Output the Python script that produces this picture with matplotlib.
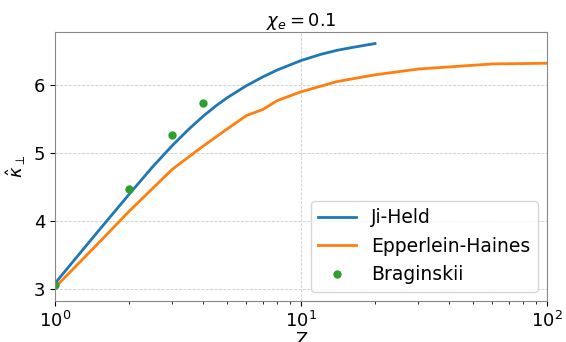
import matplotlib
matplotlib.use("Agg")
import matplotlib.pyplot as plt

# Ji-Held fit
jh_z = [1, 1.5, 2, 2.5, 3, 3.5, 4, 4.5, 5, 6, 7, 8, 10, 12, 14, 16, 20]
jh_kappa = [3.08, 3.85, 4.39, 4.80, 5.11, 5.35, 5.54, 5.69, 5.81, 5.99, 6.12, 6.22,
            6.36, 6.45, 6.51, 6.55, 6.61]

# Epperlein-Haines tabulated values
eh_z = [1, 1.5, 2, 3, 4, 5, 6, 7, 8, 10, 14, 20, 30, 60, 100]
eh_kappa = [3.02, 3.67, 4.14, 4.76, 5.10, 5.35, 5.55, 5.64, 5.77, 5.90, 6.05, 6.15,
            6.235, 6.31, 6.32]

# Braginskii points
br_z = [1, 2, 3, 4]
br_kappa = [3.05, 4.47, 5.26, 5.74]

plt.rcParams["font.size"] = 13

fig, ax = plt.subplots(figsize=(5.66, 3.42), dpi=100)
fig.subplots_adjust(left=0.0972, right=0.9664, top=0.9064, bottom=0.1199)

ax.plot(jh_z, jh_kappa, color="tab:blue", linewidth=2, label="Ji-Held")
ax.plot(eh_z, eh_kappa, color="tab:orange", linewidth=2, label="Epperlein-Haines")
ax.plot(br_z, br_kappa, "o", color="tab:green", markersize=5, label="Braginskii")

ax.set_xscale("log")
ax.set_xlim(1, 100)
ax.set_ylim(2.82, 6.78)
ax.set_yticks([3, 4, 5, 6])
ax.grid(True, linestyle="--", color="#cccccc", linewidth=0.6)
for s in ax.spines.values():
    s.set_color("#888888")

ax.set_title(r"$\chi_e = 0.1$", fontsize=13, pad=2)
ax.set_xlabel("Z", labelpad=0)
ax.set_ylabel(r"$\hat{\kappa}_\perp$")
ax.legend(loc="lower right", fontsize=13.5)

fig.savefig("out.png", dpi=100)
